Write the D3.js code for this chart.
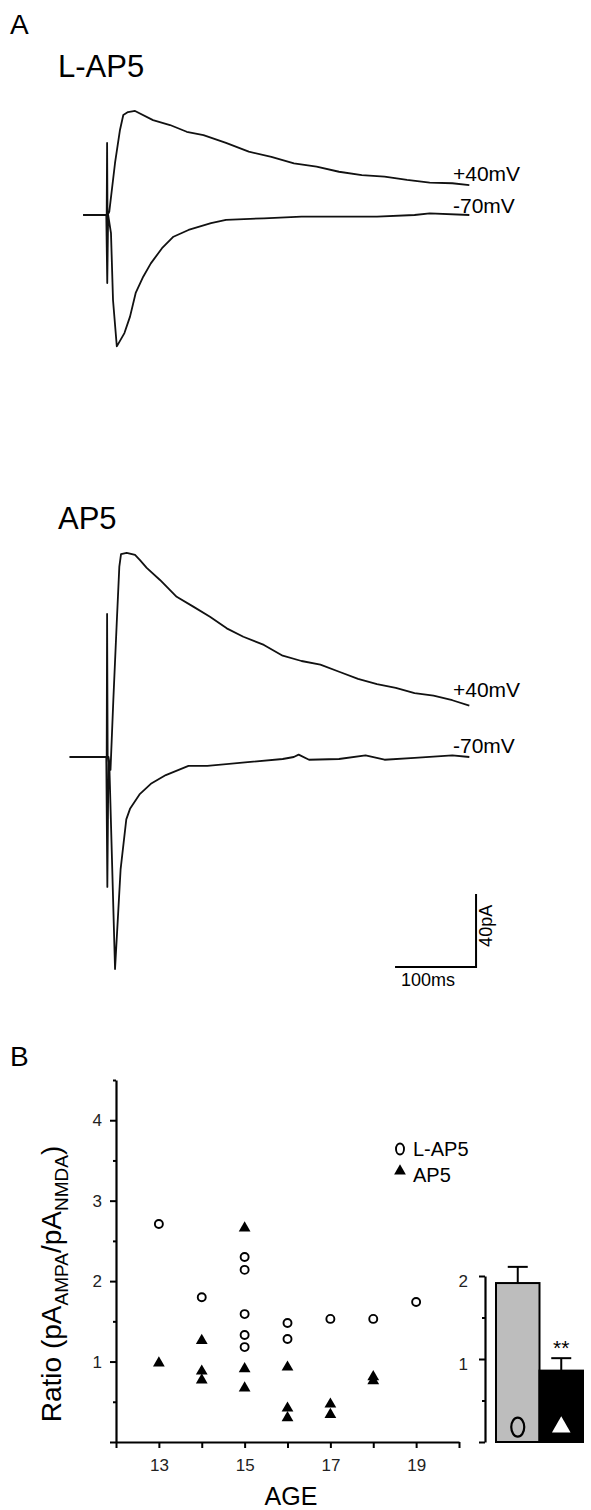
<!DOCTYPE html>
<html>
<head>
<meta charset="utf-8">
<script src="https://cdn.jsdelivr.net/npm/d3@7"></script>
<style>
  body { margin: 0; background: #fff; }
  svg { display: block; font-family: "Liberation Sans", Arial, Helvetica, sans-serif; }
</style>
</head>
<body>
<script>
// ---- panel A : traces, [time ms from stimulus, current pA] ----
var lap5Pos = [[-30, 0], [-1, 0], [-0.5, 39.5], [0, 0], [2.2, 1.8], [9.3, 28.5], [15.4, 46.6], [19.5, 54.8],
  [25.3, 56.4], [34, 57], [56.2, 52], [77.2, 49.3], [97.8, 45.6], [118.5, 43.8], [146.3, 39.5], [174.4, 34.7],
  [202.3, 31.9], [230.2, 28.3], [258.1, 26.5], [285.8, 23.7], [314, 21.9], [342, 21], [369.8, 19.2],
  [397.8, 17.7], [425.7, 17.4], [446.7, 16.4]];
var lap5Neg = [[-30, 0], [-1.5, 0], [-0.3, -37.3], [0.8, 0], [4.3, -9.9], [6.8, -46.6], [11.5, -72], [20.9, -64.7],
  [27.8, -55.7], [34.8, -42.7], [44.1, -33.8], [53.5, -26.5], [67.3, -18.2], [81.4, -11.9], [100, -8.2],
  [127.8, -4.5], [146.3, -2.7], [193.1, -1.8], [239.5, -0.9], [285.8, -0.9], [332.7, -0.9], [379.1, 0],
  [397.8, 0.9], [446.7, 0]];
var ap5Pos = [[-46.7, 0], [-1, 0], [-0.5, 78.4], [0.2, 0], [3.7, -7.1], [7.2, 31.2], [11.4, 73.4], [14.6, 104.3],
  [16.7, 111.2], [23.7, 111.9], [34, 110.7], [40.1, 107.9], [48.4, 103.6], [64.8, 97], [85.4, 87.8],
  [105.9, 82.4], [126.5, 76.9], [147.2, 70.5], [167.7, 65.9], [193.1, 61.4], [216.3, 55.5], [239.5, 52.6],
  [262.8, 50.6], [286, 46.7], [309.3, 42.8], [332.7, 39.9], [355.9, 37.9], [379.1, 35], [402.5, 33.6],
  [425.7, 31.1], [446.7, 28.2]];
var ap5Neg = [[-46.7, 0], [-1.5, 0], [-0.2, -71.2], [1.2, 0], [2.2, -3], [9.3, -116.2], [16.2, -61.4],
  [23.2, -34.2], [27.8, -28.4], [39.5, -20.5], [53.5, -14.7], [72, -9.9], [100, -4.9], [123.2, -4.9],
  [169.8, -3], [216.3, -1.1], [230, 0], [236, 1.3], [248.8, -1.5], [285.8, -1.1], [318.6, 0.9], [342, -1.5],
  [379.1, -0.5], [425.7, 0.9], [446.7, 0]];
var holdLabels = ["+40mV", "-70mV"];
var scaleBar = { t: 455, i: -115, ms: 100, pA: 40 };

// ---- panel B : ratio vs age ----
var lap5Age = [13, 14, 15, 15, 15, 15, 15, 16, 16, 17, 18, 19];
var lap5Ratio = [2.71, 1.80, 2.30, 2.14, 1.59, 1.33, 1.18, 1.48, 1.28, 1.53, 1.53, 1.74];
var ap5Age = [13, 14, 14, 14, 15, 15, 15, 16, 16, 16, 17, 17, 18, 18];
var ap5Ratio = [0.98, 1.26, 0.88, 0.77, 2.66, 0.91, 0.67, 0.93, 0.42, 0.30, 0.47, 0.34, 0.81, 0.76];
var ageTicks = [12, 13, 14, 15, 16, 17, 18, 19, 20];
var ageLabels = [13, 15, 17, 19];
var groups = ["L-AP5", "AP5"];
var meanRatio = [1.915, 0.86];
var semRatio = [0.195, 0.15];

var svg = d3.select("body").append("svg").attr("width", 591).attr("height", 1510);

// ================= panel A =================
var xT = d3.scaleLinear().domain([0, 100]).range([107.5, 188.5]);
var yL = d3.scaleLinear().domain([0, 40]).range([215, 142]);
var yA = d3.scaleLinear().domain([0, 40]).range([757, 684]);

svg.append("text").attr("x", 10).attr("y", 34).attr("font-size", 28).text("A");

function drawTraces(yS, title, titleY, pos, neg, labelY) {
	svg.append("text").attr("x", 58).attr("y", titleY).attr("font-size", 31).text(title);
	var line = d3.line().x(function (d) { return xT(d[0]); }).y(function (d) { return yS(d[1]); });
	[pos, neg].forEach(function (tr) {
		svg.append("path").attr("d", line(tr))
			.attr("fill", "none").attr("stroke", "#111").attr("stroke-width", 1.8)
			.attr("stroke-linejoin", "round");
	});
	holdLabels.forEach(function (l, i) {
		svg.append("text").attr("x", 453).attr("y", labelY[i]).attr("font-size", 21).text(l);
	});
}

drawTraces(yL, "L-AP5", 77, lap5Pos, lap5Neg, [181, 213]);
drawTraces(yA, "AP5", 529, ap5Pos, ap5Neg, [697, 753]);

// scale bar
var sbx = xT(scaleBar.t), sby = yA(scaleBar.i);
svg.append("path")
	.attr("d", "M" + xT(scaleBar.t - scaleBar.ms) + "," + sby + "H" + sbx + "V" + yA(scaleBar.i + scaleBar.pA))
	.attr("fill", "none").attr("stroke", "#000").attr("stroke-width", 2);
svg.append("text").attr("x", xT(scaleBar.t - scaleBar.ms) + 6).attr("y", sby + 19).attr("font-size", 18).text("100ms");
svg.append("text").attr("transform", "translate(" + (sbx + 16) + "," + (sby - 20) + ") rotate(-90)")
	.attr("font-size", 18).text("40pA");

// ================= panel B =================
svg.append("text").attr("x", 10).attr("y", 1066).attr("font-size", 28).text("B");

var x = d3.scaleLinear().domain([12, 20]).range([116, 459]);
var y = d3.scaleLinear().domain([0, 4.5]).range([1442, 1080]);

var yAxis = d3.axisLeft(y).tickValues(d3.range(0, 4.51, 0.5)).tickSizeOuter(0)
	.tickFormat(function (d) { return (d > 0 && d % 1 === 0) ? d : ""; });
var gy = svg.append("g").attr("transform", "translate(" + x(12) + ",0)").call(yAxis);
gy.selectAll(".tick line").attr("x2", function (d) { return d % 1 === 0 ? -6 : -3; });

var xAxis = d3.axisBottom(x).tickValues(ageTicks).tickSize(6).tickSizeOuter(0)
	.tickFormat(function (d) { return ageLabels.indexOf(d) >= 0 ? d : ""; });
var gx = svg.append("g").attr("transform", "translate(0," + y(0) + ")").call(xAxis);

[gx, gy].forEach(function (g) {
	g.select(".domain").attr("stroke-width", 2.2);
	g.selectAll(".tick line").attr("stroke-width", 2);
	g.selectAll("text").attr("font-size", 17).attr("fill", "#222").attr("font-family", null);
});
gx.selectAll("text").attr("dy", "1.2em");
gy.selectAll("text").attr("x", -14);

svg.append("text").attr("x", 291).attr("y", 1505).attr("text-anchor", "middle").attr("font-size", 25).text("AGE");

var yl = svg.append("text").attr("transform", "translate(61,1284) rotate(-90)")
	.attr("text-anchor", "middle").attr("font-size", 28);
yl.append("tspan").text("Ratio (pA");
yl.append("tspan").attr("font-size", 19).attr("dy", 7).text("AMPA");
yl.append("tspan").attr("dy", -7).text("/pA");
yl.append("tspan").attr("font-size", 19).attr("dy", 7).text("NMDA");
yl.append("tspan").attr("dy", -7).text(")");

var tri = d3.symbol(d3.symbolTriangle, 60);

svg.append("g").selectAll("circle").data(lap5Age).join("circle")
	.attr("cx", function (d) { return x(d); })
	.attr("cy", function (d, i) { return y(lap5Ratio[i]); })
	.attr("r", 4).attr("fill", "#fff").attr("stroke", "#000").attr("stroke-width", 1.9);

svg.append("g").selectAll("path").data(ap5Age).join("path")
	.attr("d", tri)
	.attr("transform", function (d, i) { return "translate(" + x(d) + "," + y(ap5Ratio[i]) + ")"; })
	.attr("fill", "#000");

// legend
svg.append("ellipse").attr("cx", 400).attr("cy", 1149).attr("rx", 4).attr("ry", 5.5)
	.attr("fill", "none").attr("stroke", "#000").attr("stroke-width", 1.9);
svg.append("path").attr("d", tri).attr("transform", "translate(400,1171)").attr("fill", "#000");
svg.append("text").attr("x", 413).attr("y", 1156).attr("font-size", 20).text(groups[0]);
svg.append("text").attr("x", 413).attr("y", 1182).attr("font-size", 20).text(groups[1]);

// bar inset
var yb = d3.scaleLinear().domain([0, 2]).range([1442, 1276]);
var xb = d3.scaleBand().domain(groups).range([496, 583]);

var gyb = svg.append("g").attr("transform", "translate(485,0)")
	.call(d3.axisLeft(yb).tickValues([0, 0.5, 1, 1.5, 2]).tickSizeOuter(0)
		.tickFormat(function (d) { return (d > 0 && d % 1 === 0) ? d : ""; }));
gyb.select(".domain").attr("stroke-width", 2.2);
gyb.selectAll(".tick line").attr("stroke-width", 2).attr("x2", function (d) { return d % 1 === 0 ? -6 : -3; });
gyb.selectAll("text").attr("font-size", 17).attr("fill", "#222").attr("font-family", null)
	.attr("x", -17).attr("dy", "0.62em");

svg.append("g").selectAll("line").data(groups).join("line")
	.attr("x1", function (d) { return xb(d) + xb.bandwidth() / 2; })
	.attr("x2", function (d) { return xb(d) + xb.bandwidth() / 2; })
	.attr("y1", function (d, i) { return yb(meanRatio[i]); })
	.attr("y2", function (d, i) { return yb(meanRatio[i] + semRatio[i]); })
	.attr("stroke", "#000").attr("stroke-width", 2);
svg.append("g").selectAll("line").data(groups).join("line")
	.attr("x1", function (d) { return xb(d) + xb.bandwidth() / 2 - 10; })
	.attr("x2", function (d) { return xb(d) + xb.bandwidth() / 2 + 10; })
	.attr("y1", function (d, i) { return yb(meanRatio[i] + semRatio[i]); })
	.attr("y2", function (d, i) { return yb(meanRatio[i] + semRatio[i]); })
	.attr("stroke", "#000").attr("stroke-width", 2);

svg.append("g").selectAll("rect").data(groups).join("rect")
	.attr("x", function (d) { return xb(d); })
	.attr("y", function (d, i) { return yb(meanRatio[i]); })
	.attr("width", xb.bandwidth())
	.attr("height", function (d, i) { return yb(0) - yb(meanRatio[i]); })
	.attr("fill", function (d, i) { return i === 0 ? "#bdbdbd" : "#000"; })
	.attr("stroke", "#000").attr("stroke-width", 2);

svg.append("ellipse").attr("cx", xb("L-AP5") + xb.bandwidth() / 2).attr("cy", yb(0.18))
	.attr("rx", 6.5).attr("ry", 9.5).attr("fill", "none").attr("stroke", "#000").attr("stroke-width", 2.2);
svg.append("path").attr("d", d3.symbol(d3.symbolTriangle, 150))
	.attr("transform", "translate(" + (xb("AP5") + xb.bandwidth() / 2) + "," + yb(0.18) + ")")
	.attr("fill", "#fff");
svg.append("text").attr("x", xb("AP5") + xb.bandwidth() / 2).attr("y", yb(meanRatio[1] + semRatio[1]) - 3)
	.attr("text-anchor", "middle").attr("font-size", 21).text("**");
</script>
</body>
</html>
